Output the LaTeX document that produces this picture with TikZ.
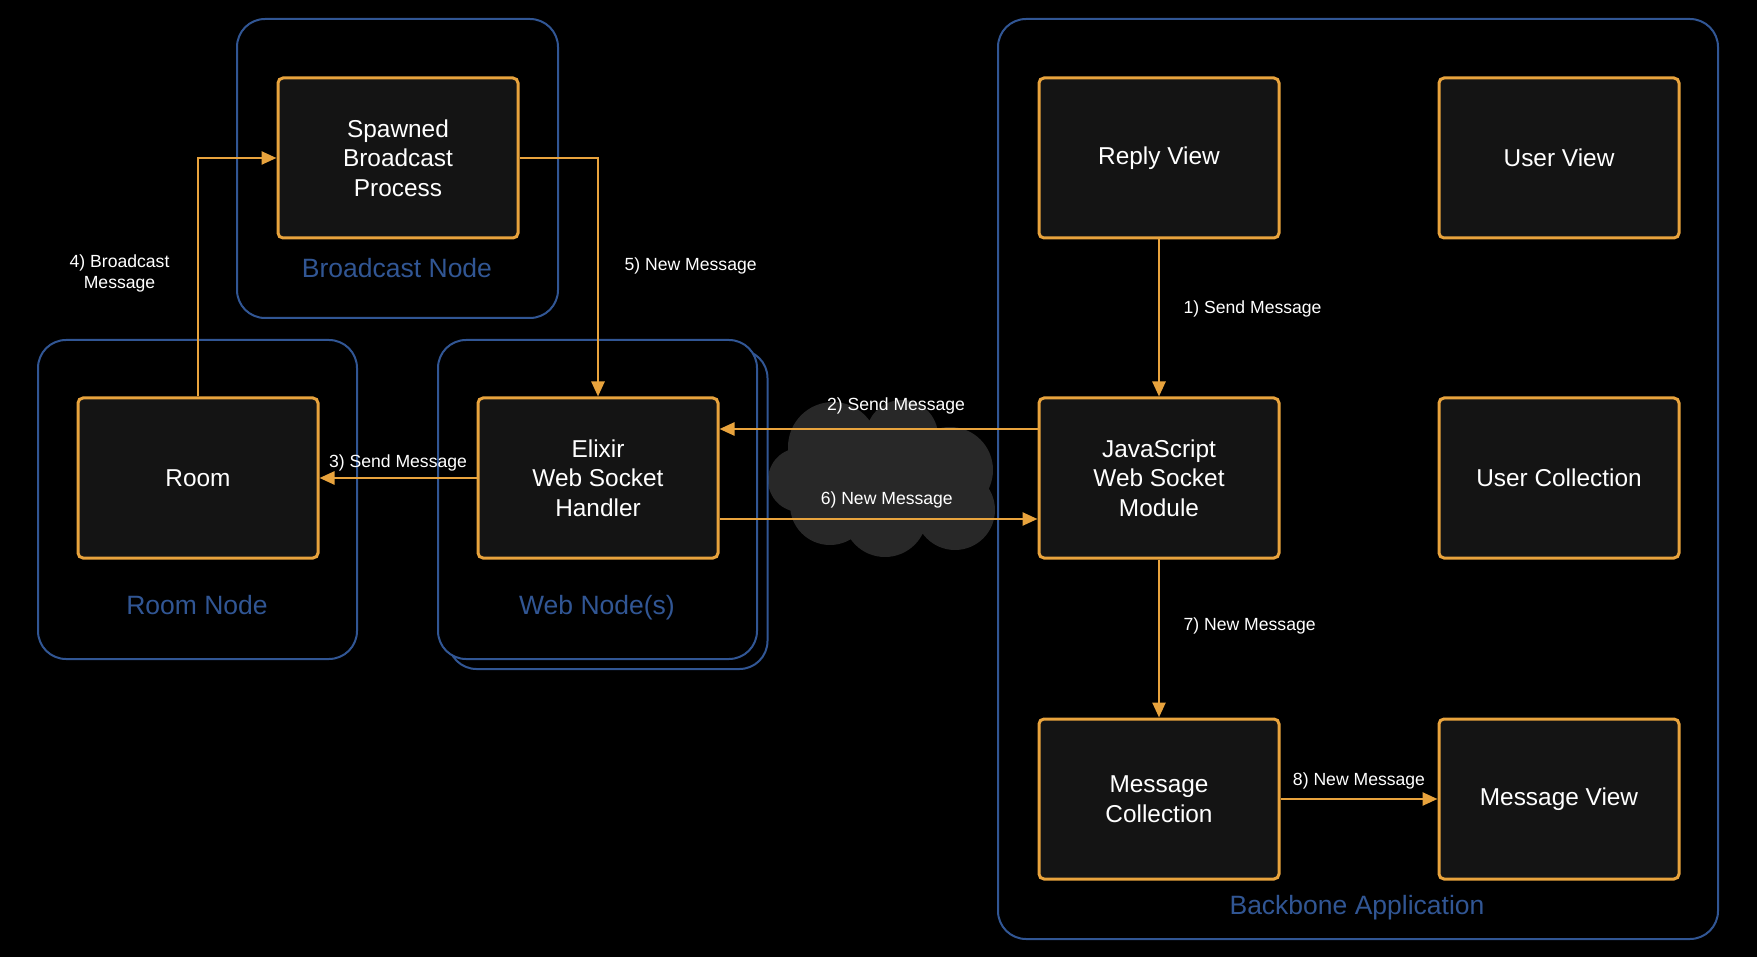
\documentclass[tikz,border=0pt]{standalone}
\usepackage{fontspec}
\setmainfont{Liberation Sans}
\usetikzlibrary{positioning, arrows.meta}
\definecolor{lineorange}{RGB}{232,163,61}
\definecolor{nodeblue}{RGB}{49,86,148}
\definecolor{boxfill}{RGB}{20,20,20}
\definecolor{cloudgray}{RGB}{40,40,40}
\tikzset{
  >={Triangle[length=15pt,width=13pt]},
  node distance=400pt,
  box/.style={draw=lineorange, line width=3pt, fill=boxfill, rounded corners=5pt,
    minimum width=240pt, minimum height=160pt, text=white, align=center,
    font=\fontsize{24.4}{29.7}\selectfont},
  container/.style={draw=nodeblue, line width=2pt, rounded corners=28pt},
  containerlabel/.style={text=nodeblue, text height=19pt, text depth=0pt, font=\fontsize{26.5}{30}\selectfont},
  msg/.style={draw=lineorange, line width=2.5pt, ->},
  msglabel/.style={text=white, align=center, font=\fontsize{17.6}{21.5}\selectfont},
}
\begin{document}
\begin{tikzpicture}[x=1pt, y=-1pt]
      \fill[black] (0,0) rectangle (1757,957);
      \useasboundingbox (0,0) rectangle (1757,957);

      % network cloud
      \fill[cloudgray] (833,447) circle[radius=45] (902,436) circle[radius=36]
            (950,470) circle[radius=43] (955,510) circle[radius=40]
            (885,515) circle[radius=42] (830,505) circle[radius=40]
            (800,480) circle[radius=32] (880,478) ellipse[x radius=80, y radius=50];

      \node[container, minimum width=321pt, minimum height=299pt] (bcastnode) at (397.5,168.5) {};
      \node[container, minimum width=319pt, minimum height=319pt] (roomnode) at (197.5,499.5) {};
      \node[container, minimum width=319pt, minimum height=319pt] (webnodeback) at (608,509.5) {};
      \node[container, fill=black, minimum width=319pt, minimum height=319pt] (webnode) at (597.5,499.5) {};
      \node[container, minimum width=720pt, minimum height=920pt] (backbone) at (1358,479) {};

      \node[containerlabel] (bcastlabel) at (397,268) {Broadcast Node};
      \node[containerlabel] (roomlabel) at (197,605) {Room Node};
      \node[containerlabel] (weblabel) at (597,605) {Web Node(s)};
      \node[containerlabel] (backbonelabel) at (1357,905) {Backbone Application};

      \node[box] (spawned) at (398,158) {Spawned\\Broadcast\\Process};
      \node[box] (room) at (198,478) {Room};
      \node[box,right of=room] (elixir) {Elixir\\Web Socket\\Handler};
      \node[box] (reply) at (1159,158) {Reply View};
      \node[box,right of=reply] (userview) {User View};
      \node[box] (js) at (1159,478) {JavaScript\\Web Socket\\Module};
      \node[box,right of=js] (usercoll) {User Collection};
      \node[box] (msgcoll) at (1159,799) {Message\\Collection};
      \node[box,right of=msgcoll] (msgview) {Message View};

      \draw[msg] (reply) -- node[msglabel, pos=0.44, right=20pt] (l1) {1) Send Message} (js);
      \draw[msg] ([yshift=49pt]js.west) -- node[msglabel, pos=0.445, above=10pt] (l2) {2) Send Message} ([yshift=49pt]elixir.east);
      \draw[msg] (elixir) -- node[msglabel, midway, above=2pt] (l3) {3) Send Message} (room);
      \draw[msg] (room) -- node[msglabel, pos=0.515, left=24pt] (l4) {4) Broadcast\\Message} (room |- spawned) -- (spawned);
      \draw[msg] (spawned) -| node[msglabel, pos=0.726, right=22pt] (l5) {5) New Message} (elixir);
      \draw[msg] ([yshift=-41pt]elixir.east) -- node[msglabel, pos=0.526, above=6pt] (l6) {6) New Message} ([yshift=-41pt]js.west);
      \draw[msg] (js) -- node[msglabel, pos=0.42, right=20pt] (l7) {7) New Message} (msgcoll);
      \draw[msg] (msgcoll) -- node[msglabel, midway, above=5pt] (l8) {8) New Message} (msgview);
    \end{tikzpicture}
\end{document}
